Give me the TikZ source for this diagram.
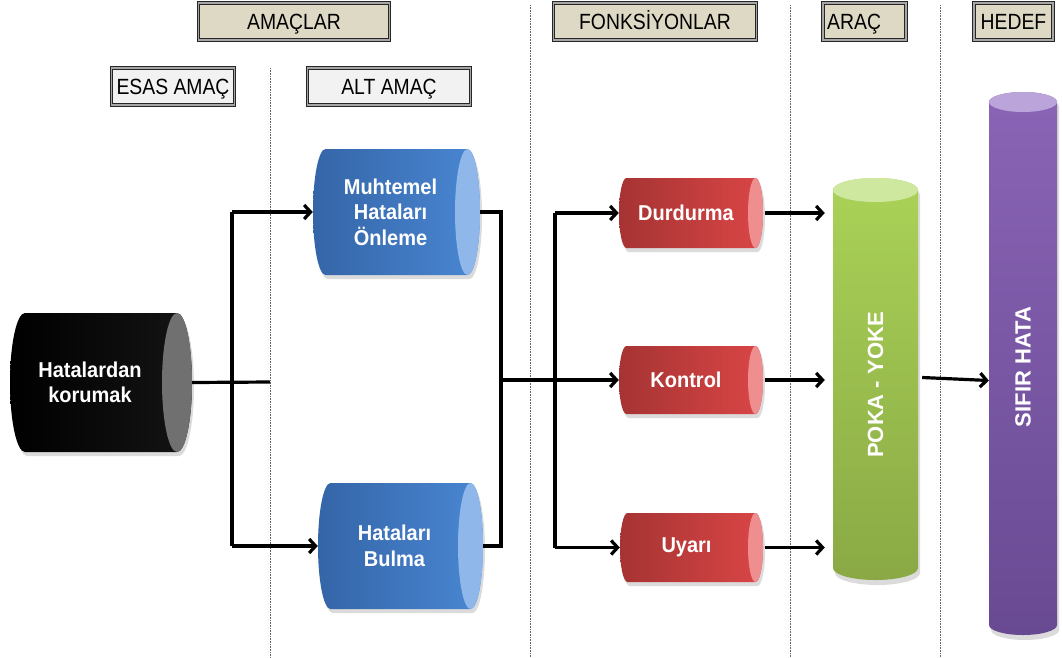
\documentclass[tikz,border=0pt]{standalone}
\usepackage{fontspec}
\setmainfont{Liberation Sans}
\newfontfamily\hdrf[FakeStretch=0.88]{Liberation Sans}
\newfontfamily\cylf[FakeStretch=0.93]{Liberation Sans}
\usetikzlibrary{arrows.meta}
\definecolor{beige}{HTML}{DDD9C4}
\definecolor{lgray}{HTML}{F2F2F2}
\definecolor{blueL}{HTML}{3465A7}
\definecolor{blueR}{HTML}{4A87D3}
\definecolor{blueC}{HTML}{8FB7EA}
\definecolor{redL}{HTML}{A63333}
\definecolor{redR}{HTML}{DA4646}
\definecolor{redC}{HTML}{EF8E8E}
\definecolor{blkC}{HTML}{707070}
\definecolor{grnT}{HTML}{AAD257}
\definecolor{grnB}{HTML}{8AA945}
\definecolor{grnC}{HTML}{CFE8A0}
\definecolor{purT}{HTML}{8A64B6}
\definecolor{purB}{HTML}{684A92}
\definecolor{purC}{HTML}{BAA4DA}
\tikzset{
  hdr/.style={draw=black!85, double=black!35, double distance=1.6pt, line width=0.8pt,
    inner sep=0pt, text height=15.8pt, text depth=0pt, font=\hdrf\fontsize{22}{24}\selectfont},
  hdrtext/.style={inner sep=0pt, text height=15.8pt, text depth=0pt, font=\hdrf\fontsize{22}{24}\selectfont},
  ctext/.style={text=white, align=center, inner sep=0pt,
    font=\cylf\bfseries\fontsize{21.5}{25.5}\selectfont},
  vtext/.style={text=white, inner sep=0pt, rotate=90,
    font=\bfseries\fontsize{22}{25}\selectfont},
  sepline/.style={draw=black!60, line width=0.6pt, dash pattern=on 0.8pt off 0.8pt},
  conn/.style={draw=black, line width=3.2pt},
  arr/.style={draw=black, line width=3.2pt, -{Straight Barb[length=6.5pt,width=14pt]}},
}
% horizontal cylinder: name, x1, x2, y1, y2, rx, leftcol, rightcol, capcol
\newcommand\hcyl[9]{%
  \pgfmathsetmacro\cylry{(#5-#4)/2}%
  \pgfmathsetmacro\cylcy{(#5+#4)/2}%
  \begin{scope}[shift={(2,4)}]
    \fill[black,opacity=0.14] (#2+#6,#4) -- (#3-#6,#4)
      arc[start angle=-90,end angle=90,x radius=#6,y radius=\cylry] -- (#2+#6,#5)
      arc[start angle=90,end angle=270,x radius=#6,y radius=\cylry] -- cycle;
  \end{scope}
  \shade[left color=#7,right color=#8] (#2+#6,#4) -- (#3-#6,#4)
      arc[start angle=-90,end angle=90,x radius=#6,y radius=\cylry] -- (#2+#6,#5)
      arc[start angle=90,end angle=270,x radius=#6,y radius=\cylry] -- cycle;
  \fill[#9] (#3-#6,\cylcy) ellipse[x radius=#6,y radius=\cylry];
  \node[inner sep=0pt,minimum width={(#3-#2)*1pt},minimum height={(#5-#4)*1pt}]
    (#1) at ({(#2+#3)/2},\cylcy) {};
}
% vertical cylinder: name, x1, x2, ytop, ybot, ry, topcol, botcol, capcol
\newcommand\vcyl[9]{%
  \pgfmathsetmacro\cylrx{(#3-#2)/2}%
  \pgfmathsetmacro\cylcx{(#3+#2)/2}%
  \begin{scope}[shift={(2,5)}]
    \fill[black,opacity=0.14] (#2,#4+#6) -- (#2,#5-#6)
      arc[start angle=180,end angle=0,x radius=\cylrx,y radius=#6] -- (#3,#4+#6)
      arc[start angle=0,end angle=-180,x radius=\cylrx,y radius=#6] -- cycle;
  \end{scope}
  \shade[top color=#7,bottom color=#8] (#2,#4+#6) -- (#2,#5-#6)
      arc[start angle=180,end angle=0,x radius=\cylrx,y radius=#6] -- (#3,#4+#6)
      arc[start angle=0,end angle=-180,x radius=\cylrx,y radius=#6] -- cycle;
  \fill[#9] (\cylcx,#4+#6) ellipse[x radius=\cylrx,y radius=#6];
  \node[inner sep=0pt,minimum width={(#3-#2)*1pt},minimum height={(#5-#4)*1pt}]
    (#1) at (\cylcx,{(#4+#5)/2}) {};
}
\begin{document}
\begin{tikzpicture}[x=1pt,y=-1pt]
\useasboundingbox (0,0) rectangle (1062,657);
\fill[white] (0,0) rectangle (1062,657);

% separators
\draw[sepline] (270,68) -- (270,657);
\draw[sepline] (530,5) -- (530,657);
\draw[sepline] (790,5) -- (790,657);
\draw[sepline] (940,5) -- (940,657);

% headers
\node[hdr, fill=beige, minimum width=191pt, minimum height=37pt] (hAmac) at (294,21.5) {AMAÇLAR};
\node[hdr, fill=lgray, minimum width=123pt, minimum height=37pt] (hEsas) at (173,86.5) {ESAS AMAÇ};
\node[hdr, fill=lgray, minimum width=163pt, minimum height=37pt] (hAlt) at (389,86.5) {ALT AMAÇ};
\node[hdr, fill=beige, minimum width=203pt, minimum height=37pt] (hFonk) at (655,21.5) {FONKSİYONLAR};
\node[hdr, fill=beige, minimum width=83pt, minimum height=37pt] (hArac) at (864.5,21.5) {};
\node[hdrtext, anchor=west] (tArac) at (827,21.5) {ARAÇ};
\node[hdr, fill=beige, minimum width=79pt, minimum height=37pt] (hHedef) at (1013.5,21.5) {HEDEF};

% cylinders
\hcyl{hk}{10}{192}{313}{452}{15}{black}{black!92}{blkC}
\hcyl{mho}{313}{480}{149}{275}{12.5}{blueL}{blueR}{blueC}
\hcyl{hb}{318}{483}{483}{609}{12.5}{blueL}{blueR}{blueC}
\hcyl{du}{619}{763}{178}{248}{7.5}{redL}{redR}{redC}
\hcyl{ko}{619}{763}{346}{414}{7.5}{redL}{redR}{redC}
\hcyl{uy}{620}{763}{513}{582}{7.5}{redL}{redR}{redC}
\vcyl{pk}{833}{918}{178}{580}{12}{grnT}{grnB}{grnC}
\vcyl{sh}{989}{1057}{92}{635}{10}{purT}{purB}{purC}

% cylinder texts
\node[ctext] (thk) at ([xshift=-11pt]hk.center) {Hatalardan\\korumak};
\node[ctext] (tmho) at ([xshift=-6pt]mho.center) {Muhtemel\\Hataları\\Önleme};
\node[ctext] (thb) at ([xshift=-6pt]hb.center) {Hataları\\Bulma};
\node[ctext] (tdu) at ([xshift=-5pt]du.center) {Durdurma};
\node[ctext] (tko) at ([xshift=-5pt]ko.center) {Kontrol};
\node[ctext] (tuy) at ([xshift=-5pt]uy.center) {Uyarı};
\node[vtext] (tpk) at (875.5,385) {POKA - YOKE};
\node[vtext] (tsh) at (1023,367) {SIFIR HATA};

% connectors
\coordinate (L) at (232,382);
\coordinate (jl) at (270,382);
\coordinate (R) at (501,382);
\coordinate (F) at (555,382);
\draw[conn] (hk.east) -- (jl);
\draw[conn] (L |- mho.west) -- (L |- hb.west);
\draw[arr] (L |- mho.west) -- (mho.west);
\draw[arr] (L |- hb.west) -- (hb.west);
\draw[conn] (mho.east) -- (mho.east -| R) -- (hb.east -| R) -- (hb.east);
\draw[conn] (F |- du.west) -- (F |- uy.west);
\draw[arr] (R |- ko.west) -- (ko.west);
\draw[arr] (F |- du.west) -- (du.west);
\draw[arr] (F |- uy.west) -- (uy.west);
\draw[arr, shorten <=2pt, shorten >=8pt] (du.east) -- (du.east -| pk.west);
\draw[arr, shorten <=2pt, shorten >=8pt] (ko.east) -- (ko.east -| pk.west);
\draw[arr, shorten <=2pt, shorten >=8pt] (uy.east) -- (uy.east -| pk.west);
\draw[arr] ([xshift=4pt,yshift=1.5pt]pk.east) -- ([yshift=-1.5pt]sh.west |- pk.east);
\end{tikzpicture}
\end{document}
